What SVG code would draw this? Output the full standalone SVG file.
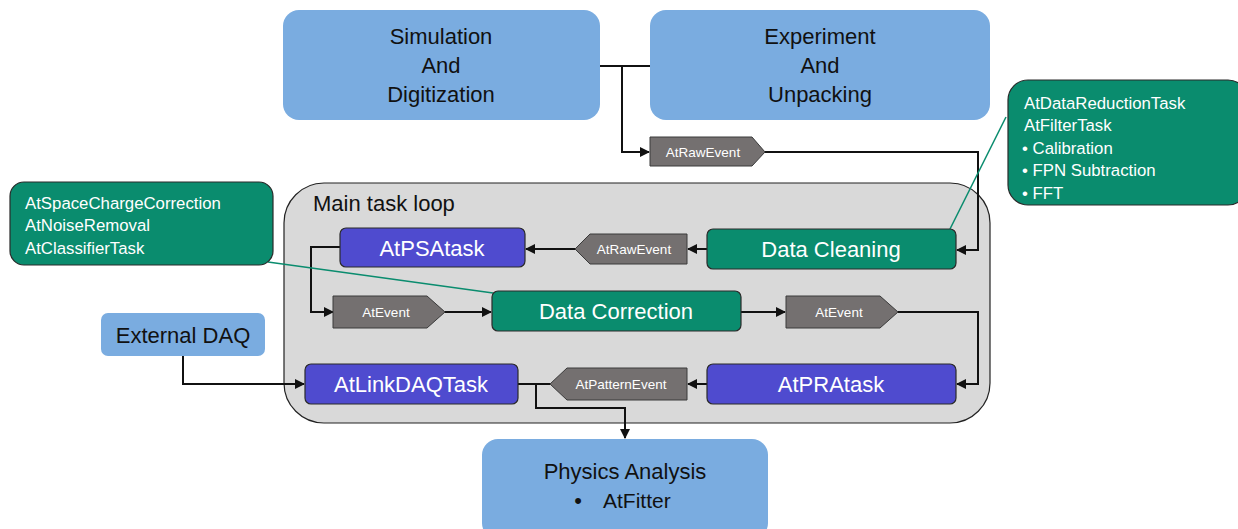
<svg xmlns="http://www.w3.org/2000/svg" width="1238" height="529" viewBox="0 0 1238 529">
<defs>
<style>
text{font-family:"Liberation Sans",Arial,sans-serif;}
.lb{fill:#7aace0;}
.lbt{fill:#111;font-size:22px;text-anchor:middle;}
.gr{fill:#0a8c6e;stroke:#2a2a2a;stroke-width:1.2;}
.pu{fill:#4f4bcf;stroke:#2a2a2a;stroke-width:1.2;}
.wt{fill:#fff;font-size:22px;text-anchor:middle;}
.tag{fill:#747070;stroke:#3a3a3a;stroke-width:1;}
.tagt{fill:#fff;font-size:13.5px;text-anchor:middle;}
.ct{fill:#fff;font-size:16.8px;}
.ln{fill:none;stroke:#111;stroke-width:2;}
.gl{fill:none;stroke:#0a8c6e;stroke-width:1.5;}
</style>
<marker id="ah" viewBox="0 0 10 10" refX="9" refY="5" markerWidth="5" markerHeight="5" orient="auto">
<path d="M0,0 L10,5 L0,10 z" fill="#111"/>
</marker>
</defs>

<g id="main-loop">
<rect x="284" y="183" width="706" height="240" rx="40" fill="#d9d9d9" stroke="#222" stroke-width="1.2"/>
<text x="313" y="211" font-size="22" fill="#111">Main task loop</text>
</g>

<g id="simulation">
<rect class="lb" x="283" y="10" width="317" height="110" rx="16"/>
<text class="lbt" x="441" y="44">Simulation</text>
<text class="lbt" x="441" y="73">And</text>
<text class="lbt" x="441" y="102">Digitization</text>
</g>

<g id="experiment">
<rect class="lb" x="650" y="10" width="340" height="110" rx="16"/>
<text class="lbt" x="820" y="44">Experiment</text>
<text class="lbt" x="820" y="73">And</text>
<text class="lbt" x="820" y="102">Unpacking</text>
</g>

<g id="external-daq">
<rect class="lb" x="101" y="313" width="164" height="43" rx="7"/>
<text class="lbt" x="183" y="343">External DAQ</text>
</g>

<g id="physics-analysis">
<rect class="lb" x="482" y="439" width="286" height="100" rx="16"/>
<text class="lbt" x="625" y="479" font-size="21">Physics Analysis</text>
<text class="lbt" x="578" y="508">•</text>
<text x="603" y="508" font-size="21" fill="#111">AtFitter</text>
</g>

<g id="connectors">
<path class="ln" d="M600,66 H650"/>
<path class="ln" d="M622,66 V152 H649" marker-end="url(#ah)"/>
<path class="ln" d="M765,152 H978 V250 H957" marker-end="url(#ah)"/>
<path class="ln" d="M707,249 H688" marker-end="url(#ah)"/>
<path class="ln" d="M575,249 H526" marker-end="url(#ah)"/>
<path class="ln" d="M340,247 H311 V312 H333" marker-end="url(#ah)"/>
<path class="ln" d="M445,312 H491" marker-end="url(#ah)"/>
<path class="ln" d="M741,312 H785" marker-end="url(#ah)"/>
<path class="ln" d="M898,312 H978 V384 H957" marker-end="url(#ah)"/>
<path class="ln" d="M707,384 H688" marker-end="url(#ah)"/>
<path class="ln" d="M518,384 H550"/>
<path class="ln" d="M536,384 V408 H625 V438" marker-end="url(#ah)"/>
<path class="ln" d="M183,356 V384 H304" marker-end="url(#ah)"/>
<path class="gl" d="M1006,117 L950,229"/>
<path class="gl" d="M268,262 L493,293"/>
</g>

<g id="atrawevent-top">
<path class="tag" d="M650,137 H752 L765,152 L752,166 H650 Z"/>
<text class="tagt" x="703" y="157">AtRawEvent</text>
</g>

<g id="data-cleaning">
<rect class="gr" x="707" y="229" width="249" height="40" rx="6"/>
<text class="wt" x="831" y="257">Data Cleaning</text>
</g>

<g id="atrawevent-mid">
<path class="tag" d="M687,234 H590 L575,249 L590,264 H687 Z"/>
<text class="tagt" x="634" y="254">AtRawEvent</text>
</g>

<g id="atpsatask">
<rect class="pu" x="340" y="228" width="185" height="39" rx="6"/>
<text class="wt" x="432" y="256">AtPSAtask</text>
</g>

<g id="atevent-left">
<path class="tag" d="M333,296 H427 L445,312 L427,328 H333 Z"/>
<text class="tagt" x="386" y="317">AtEvent</text>
</g>

<g id="data-correction">
<rect class="gr" x="492" y="291" width="249" height="40" rx="6"/>
<text class="wt" x="616" y="319">Data Correction</text>
</g>

<g id="atevent-right">
<path class="tag" d="M786,296 H880 L898,312 L880,328 H786 Z"/>
<text class="tagt" x="839" y="317">AtEvent</text>
</g>

<g id="atpratask">
<rect class="pu" x="707" y="364" width="249" height="40" rx="6"/>
<text class="wt" x="831" y="392">AtPRAtask</text>
</g>

<g id="atpatternevent">
<path class="tag" d="M687,368 H567 L550,384 L567,400 H687 Z"/>
<text class="tagt" x="621" y="389">AtPatternEvent</text>
</g>

<g id="atlinkdaqtask">
<rect class="pu" x="305" y="364" width="213" height="40" rx="6"/>
<text class="wt" x="411" y="392">AtLinkDAQTask</text>
</g>

<g id="callout-right">
<rect class="gr" x="1008" y="80" width="240" height="125" rx="20"/>
<text class="ct" x="1024" y="109">AtDataReductionTask</text>
<text class="ct" x="1024" y="131">AtFilterTask</text>
<text class="ct" x="1022" y="154">• Calibration</text>
<text class="ct" x="1022" y="176">• FPN Subtraction</text>
<text class="ct" x="1022" y="199">• FFT</text>
</g>

<g id="callout-left">
<rect class="gr" x="10" y="182" width="263" height="83" rx="14"/>
<text class="ct" x="25" y="209">AtSpaceChargeCorrection</text>
<text class="ct" x="25" y="231">AtNoiseRemoval</text>
<text class="ct" x="25" y="254">AtClassifierTask</text>
</g>
</svg>
